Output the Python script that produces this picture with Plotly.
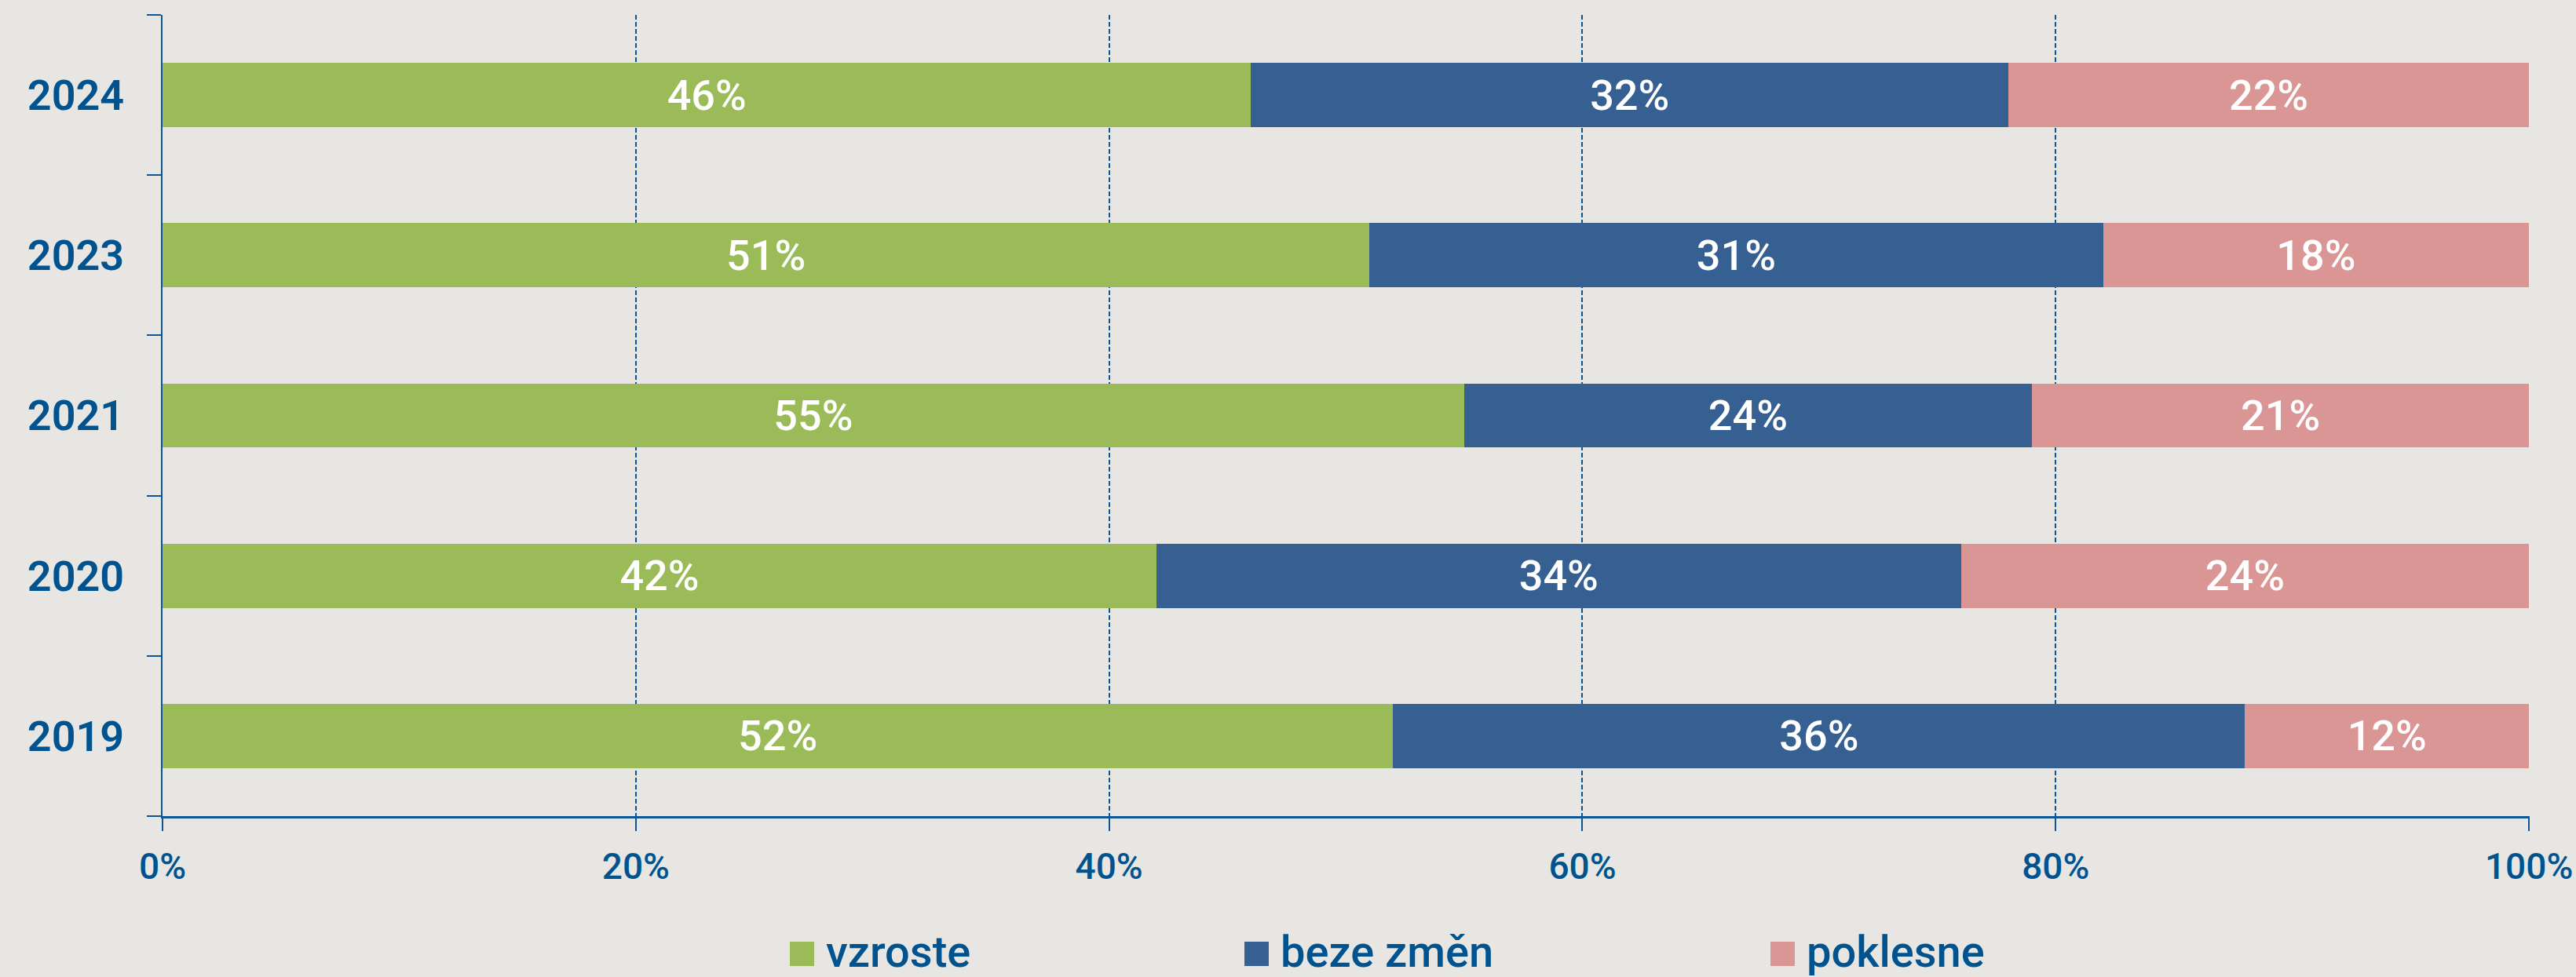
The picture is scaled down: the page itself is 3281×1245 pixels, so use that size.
import plotly.graph_objects as go

years = ["2019", "2020", "2021", "2023", "2024"]
vzroste = [52, 42, 55, 51, 46]
beze_zmen = [36, 34, 24, 31, 32]
poklesne = [12, 24, 21, 18, 22]
series_names = ["vzroste", "beze změn", "poklesne"]
x_ticks = [0, 20, 40, 60, 80, 100]
x_tick_labels = ["0%", "20%", "40%", "60%", "80%", "100%"]

colors = ["#9bbb59", "#366092", "#da9694"]
BG = "#e7e6e2"
AX = "#0d5595"
TXT = "#00538f"
FONT = "Roboto, sans-serif"

W, H = 3281, 1245
ML, MR, MT, MB = 207, 59, 19, 205

fig = go.Figure()
for name, vals, col in zip(series_names, [vzroste, beze_zmen, poklesne], colors):
    fig.add_trace(go.Bar(
        y=years, x=vals, name=name, orientation="h",
        marker=dict(color=col, line=dict(width=0)),
        text=[f"{v}%" for v in vals], textposition="inside",
        insidetextanchor="middle", textangle=0,
        textfont=dict(family=FONT, size=54, color="white", weight=500),
        showlegend=False, hoverinfo="skip",
    ))

# manual legend (paper coords derived from pixel layout)
pw = W - ML - MR
ph = H - MT - MB
def px_x(p):
    return (p - ML) / pw
def px_y(p):
    return (H - MB - p) / ph

legend_sq = [1006, 1585, 2255]
for name, col, sx in zip(series_names, colors, legend_sq):
    fig.add_shape(type="rect", xref="paper", yref="paper",
                  x0=px_x(sx), x1=px_x(sx + 31), y0=px_y(1231), y1=px_y(1200),
                  fillcolor=col, line=dict(width=0))
    fig.add_annotation(xref="paper", yref="paper", x=px_x(sx + 44), y=px_y(1213),
                       text=name, showarrow=False, xanchor="left", yanchor="middle",
                       font=dict(family=FONT, size=56, color=TXT, weight=500))

fig.update_layout(
    barmode="stack", bargap=0.6,
    width=W, height=H,
    margin=dict(l=ML, r=MR, t=MT, b=MB, pad=0, autoexpand=False),
    paper_bgcolor=BG, plot_bgcolor=BG,
    showlegend=False,
)
fig.update_xaxes(
    range=[0, 100.03], tickvals=x_ticks, ticktext=x_tick_labels,
    showgrid=True, gridcolor=AX, gridwidth=2, griddash="6px,3px",
    showline=True, linecolor=AX, linewidth=3,
    ticks="outside", ticklen=16, tickwidth=2, tickcolor=AX,
    tickfont=dict(family=FONT, size=46, color=TXT, weight=500),
    ticklabelstandoff=6, zeroline=False, fixedrange=True, automargin=False,
)
fig.update_yaxes(
    categoryorder="array", categoryarray=years, range=[-0.5, 4.5],
    showgrid=False, showline=True, linecolor=AX, linewidth=2,
    ticks="outside", tickson="boundaries", ticklen=18, tickwidth=2, tickcolor=AX,
    tickfont=dict(family=FONT, size=54, color=TXT, weight=600),
    ticklabelstandoff=36, zeroline=False, fixedrange=True, automargin=False,
)

fig.write_html(
    "out.html",
    config={"displayModeBar": False},
    post_script="document.body.style.margin='0';document.body.style.overflow='hidden';",
)
